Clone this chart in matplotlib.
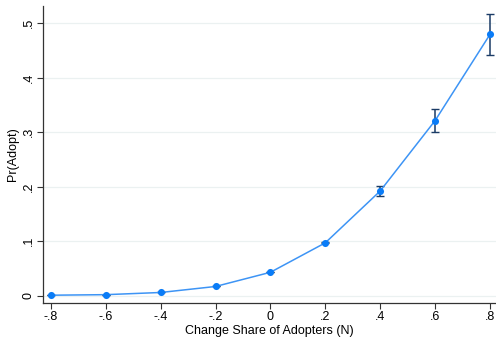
import matplotlib
matplotlib.use("Agg")
from matplotlib import pyplot as plt

plt.rcParams['font.family'] = ['Liberation Sans', 'DejaVu Sans']

# predicted probability of adoption by change in adopter share
share = [-0.8, -0.6, -0.4, -0.2, 0.0, 0.2, 0.4, 0.6, 0.8]
prob = [0.001, 0.002, 0.006, 0.017, 0.043, 0.097, 0.192, 0.321, 0.479]
ci_lo = [0.001, 0.002, 0.006, 0.017, 0.043, 0.096, 0.183, 0.300, 0.442]
ci_hi = [0.001, 0.002, 0.006, 0.017, 0.043, 0.098, 0.201, 0.343, 0.516]

xticks = [-0.8, -0.6, -0.4, -0.2, 0.0, 0.2, 0.4, 0.6, 0.8]
xlabels = ['-.8', '-.6', '-.4', '-.2', '0', '.2', '.4', '.6', '.8']
yticks = [0, 0.1, 0.2, 0.3, 0.4, 0.5]
ylabels = ['0', '.1', '.2', '.3', '.4', '.5']

fig = plt.figure(figsize=(4.96, 3.38), dpi=100)
ax = fig.add_axes([0.087, 0.104, 0.913, 0.878])

yerr = [[p - lo for p, lo in zip(prob, ci_lo)], [hi - p for p, hi in zip(prob, ci_hi)]]
ax.errorbar(share, prob, yerr=yerr, fmt='none', ecolor='#1a3b66', elinewidth=1.1,
            capsize=3, capthick=1.0, zorder=2)
ax.plot(share, prob, color='#3d94f5', lw=1.1, zorder=3)
ax.scatter(share, prob, s=26, color='#0a7cf7', zorder=4, linewidths=0)

ax.set_xlim(-0.828, 0.822)
ax.set_ylim(-0.013, 0.531)
ax.set_xticks(xticks)
ax.set_xticklabels(xlabels)
ax.set_yticks(yticks)
ax.set_yticklabels(ylabels, rotation=90, va='center')
ax.tick_params(labelsize=9, length=4, width=0.8, color='#333333', pad=2)

ax.grid(axis='y', color='#ebf1f1', lw=0.9)
ax.set_axisbelow(True)
for side in ['top', 'right']:
    ax.spines[side].set_visible(False)
for side in ['left', 'bottom']:
    ax.spines[side].set_color('#333333')
    ax.spines[side].set_linewidth(0.9)

ax.set_xlabel('Change Share of Adopters (N)', fontsize=9, labelpad=1)
ax.set_ylabel('Pr(Adopt)', fontsize=9, labelpad=3)

fig.savefig('out.png', dpi=100)
